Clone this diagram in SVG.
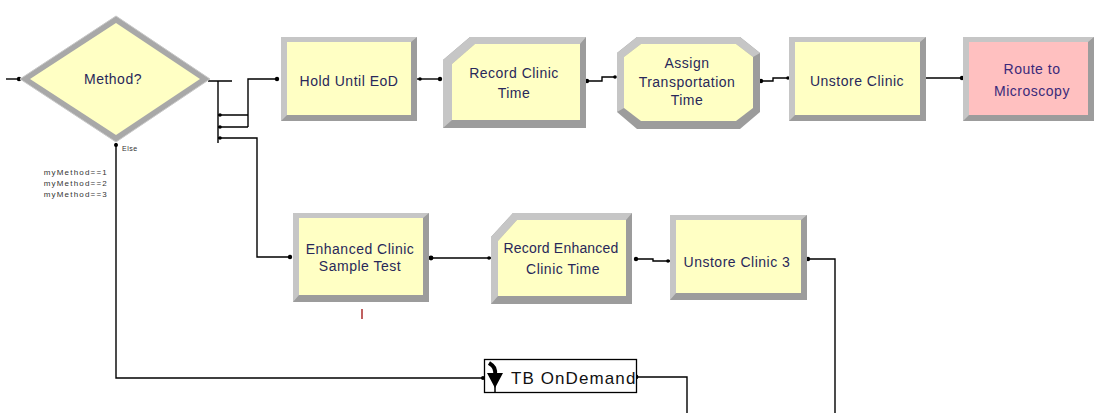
<svg xmlns="http://www.w3.org/2000/svg" width="1094" height="413" viewBox="0 0 1094 413">
<style>
.dk{fill:#9c9c9c}
.lt{fill:#c6c6c6}
.yel{fill:#ffffc4}
.pink{fill:#ffc0c0}
.lbl{font-family:"Liberation Sans",Arial,sans-serif;font-size:14px;fill:#28285a;text-anchor:middle;letter-spacing:0.5px}
.sm{font-family:"Liberation Sans",Arial,sans-serif;font-size:8px;fill:#333;letter-spacing:1.2px}
.ln{fill:none;stroke:#000;stroke-width:1.4}
.dot{fill:#000}
</style>
<rect width="1094" height="413" fill="#fff"/>
<g id="connectors">
<path class="ln" d="M6,79 H22"/>
<circle class="dot" cx="19" cy="79" r="2.2"/>
<path class="ln" d="M208,81 H232 M218,81 V143 M218,115 H248 M218,127 H248 M248,127 V79 H278"/>
<circle class="dot" cx="277" cy="79" r="2.2"/>
<circle class="dot" cx="220" cy="115" r="1.8"/>
<circle class="dot" cx="220" cy="127" r="1.8"/>
<circle class="dot" cx="220" cy="138" r="1.8"/>
<path class="ln" d="M218,138 H257 V257 H290"/>
<circle class="dot" cx="290" cy="257" r="2.2"/>
<path class="ln" d="M417,79 H441"/>
<circle class="dot" cx="420" cy="79" r="1.8"/>
<circle class="dot" cx="440" cy="79" r="2.2"/>
<path class="ln" d="M586,81 H602 V77 H616"/>
<circle class="dot" cx="587" cy="81" r="2.2"/>
<circle class="dot" cx="615" cy="77" r="1.8"/>
<path class="ln" d="M760,81 H773 V78 H789"/>
<circle class="dot" cx="761" cy="81" r="2.2"/>
<circle class="dot" cx="788" cy="78" r="1.8"/>
<path class="ln" d="M926,78 H962"/>
<circle class="dot" cx="962" cy="78" r="2.2"/>
<path class="ln" d="M429,258 H491"/>
<circle class="dot" cx="431" cy="258" r="2.4"/>
<circle class="dot" cx="489" cy="258" r="1.8"/>
<path class="ln" d="M634,259 H653 V261 H670"/>
<circle class="dot" cx="636" cy="259" r="2.2"/>
<circle class="dot" cx="668" cy="261" r="1.8"/>
<path class="ln" d="M807,259 H835 V413"/>
<circle class="dot" cx="808" cy="259" r="2.2"/>
<path class="ln" d="M116,143 V378 H484"/>
<circle class="dot" cx="116" cy="145" r="2"/>
<circle class="dot" cx="483" cy="378" r="2"/>
<path class="ln" d="M636,377 H687 V413"/>
<circle class="dot" cx="636" cy="377" r="2.4"/>
</g>
<g id="method">
<polygon points="20,79 116,16 210,79 116,142" fill="#a8a8a8"/>
<polygon points="20,79 116,16 210,79 116,142" fill="none" stroke="#c8c8c8" stroke-width="1"/>
<polygon points="30,79 116,23 200,79 116,135" class="yel"/>
<text class="lbl" x="113" y="84">Method?</text>
<text class="sm" x="122" y="151" style="font-size:7px;letter-spacing:0.5px">Else</text>
<text class="sm" x="108" y="175" text-anchor="end">myMethod==1</text>
<text class="sm" x="108" y="186" text-anchor="end">myMethod==2</text>
<text class="sm" x="108" y="197" text-anchor="end">myMethod==3</text>
</g>
<g id="hold">
<rect x="281" y="37" width="136" height="84" class="dk"/>
<polygon points="281,37 417,37 411,42 287,42 287,115 281,121" class="lt"/>
<rect x="287" y="42" width="124" height="73" class="yel"/>
<text class="lbl" x="349" y="86">Hold Until EoD</text>
</g>
<g id="record-clinic">
<polygon points="443,60 470,37 586,37 586,128 443,128" class="dk"/>
<polygon points="443,60 470,37 586,37 580,44 475,44 452,64 452,120 443,128" class="lt"/>
<polygon points="452,64 475,44 580,44 580,120 452,120" class="yel"/>
<text class="lbl" x="514" y="78">Record Clinic</text>
<text class="lbl" x="514" y="98">Time</text>
</g>
<g id="assign">
<polygon points="617,53 637,37 740,37 760,53 760,112 740,129 637,129 617,112" class="dk"/>
<polygon points="617,53 637,37 740,37 760,53 753,57 736,44 641,44 624,57 624,108 617,112" class="lt"/>
<polygon points="624,57 641,44 736,44 753,57 753,108 736,121 641,121 624,108" class="yel"/>
<text class="lbl" x="687" y="68">Assign</text>
<text class="lbl" x="687" y="87">Transportation</text>
<text class="lbl" x="687" y="105">Time</text>
</g>
<g id="unstore-clinic">
<rect x="789" y="37" width="137" height="84" class="dk"/>
<polygon points="789,37 926,37 920,42 795,42 795,115 789,121" class="lt"/>
<rect x="795" y="42" width="125" height="73" class="yel"/>
<text class="lbl" x="857" y="86">Unstore Clinic</text>
</g>
<g id="route">
<rect x="963" y="37" width="131" height="84" class="dk"/>
<polygon points="963,37 1094,37 1088,42 969,42 969,115 963,121" class="lt"/>
<rect x="969" y="42" width="119" height="73" class="pink"/>
<text class="lbl" x="1032" y="74" style="fill:#3a2a7a">Route to</text>
<text class="lbl" x="1032" y="96" style="fill:#3a2a7a">Microscopy</text>
</g>
<g id="enhanced-clinic">
<rect x="293" y="213" width="136" height="89" class="dk"/>
<polygon points="293,213 429,213 423,218 299,218 299,295 293,302" class="lt"/>
<rect x="299" y="218" width="124" height="77" class="yel"/>
<text class="lbl" x="360" y="254">Enhanced Clinic</text>
<text class="lbl" x="360" y="271">Sample Test</text>
<path d="M362,309 V319" stroke="#c06060" stroke-width="2"/>
</g>
<g id="record-enhanced">
<polygon points="491,237 513,213 632,213 632,304 491,304" class="dk"/>
<polygon points="491,237 513,213 632,213 626,220 517,220 498,241 498,296 491,304" class="lt"/>
<polygon points="498,241 517,220 626,220 626,296 498,296" class="yel"/>
<text class="lbl" x="561" y="253" style="letter-spacing:0.2px">Record Enhanced</text>
<text class="lbl" x="563" y="274">Clinic Time</text>
</g>
<g id="unstore-clinic-3">
<rect x="670" y="215" width="137" height="85" class="dk"/>
<polygon points="670,215 807,215 801,220 676,220 676,293 670,300" class="lt"/>
<rect x="676" y="220" width="125" height="73" class="yel"/>
<text class="lbl" x="737" y="267">Unstore Clinic 3</text>
</g>
<g id="tb-ondemand">
<rect x="484.5" y="359.5" width="152" height="33" fill="#fff" stroke="#000" stroke-width="1.3"/>
<path d="M489,363 C494,366 496,369 495,376" fill="none" stroke="#000" stroke-width="4"/>
<polygon points="487,373 503,373 495,388" fill="#000"/>
<path d="M495,385 V392" stroke="#000" stroke-width="1.5"/>
<text x="511" y="384" style="font-family:'Liberation Sans',Arial,sans-serif;font-size:17px;fill:#111;letter-spacing:1.1px">TB OnDemand</text>
</g>
</svg>
